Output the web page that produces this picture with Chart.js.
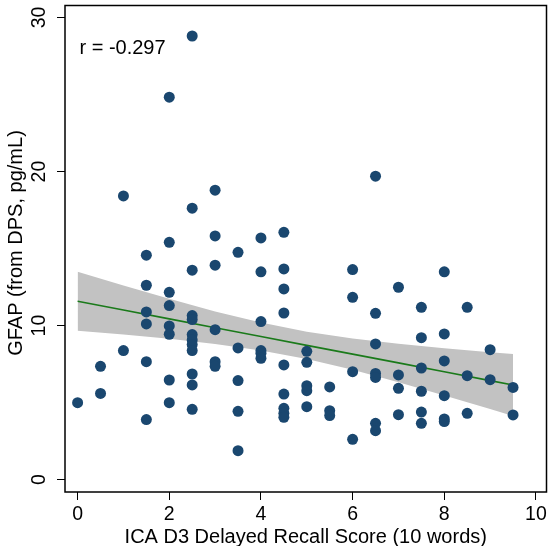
<!DOCTYPE html>
<html>
<head>
<meta charset="utf-8">
<script src="https://cdn.jsdelivr.net/npm/chart.js@4"></script>
<style>
html, body { margin: 0; padding: 0; background: #fff; }
</style>
</head>
<body>
<canvas id="chart" width="552" height="546"></canvas>
<script>
// axis ticks and labels
const xTicks = [0, 2, 4, 6, 8, 10];
const yTicks = [0, 10, 20, 30];
const xTitle = 'ICA D3 Delayed Recall Score (10 words)';
const yTitle = 'GFAP (from DPS, pg/mL)';
const rLabel = 'r = -0.297';

const recallX = [
    0,
    0.5, 0.5,
    1, 1,
    1.5, 1.5, 1.5, 1.5, 1.5, 1.5,
    2, 2, 2, 2, 2, 2, 2, 2,
    2.5, 2.5, 2.5, 2.5, 2.5, 2.5, 2.5, 2.5, 2.5, 2.5, 2.5, 2.5,
    3, 3, 3, 3, 3, 3,
    3.5, 3.5, 3.5, 3.5, 3.5,
    4, 4, 4, 4, 4, 4,
    4.5, 4.5, 4.5, 4.5, 4.5, 4.5, 4.5, 4.5, 4.5,
    5, 5, 5, 5, 5,
    5.5, 5.5, 5.5,
    6, 6, 6, 6,
    6.5, 6.5, 6.5, 6.5, 6.5, 6.5, 6.5,
    7, 7, 7, 7,
    7.5, 7.5, 7.5, 7.5, 7.5, 7.5,
    8, 8, 8, 8, 8, 8,
    8.5, 8.5, 8.5,
    9, 9,
    9.5, 9.5
];
const gfapY = [
    5.0,
    7.36, 5.6,
    18.42, 8.38,
    14.57, 12.62, 10.89, 10.11, 7.66, 3.9,
    24.83, 15.41, 12.16, 11.3, 9.98, 9.44, 6.47, 5.0,
    28.8, 17.62, 13.6, 10.65, 10.39, 9.42, 9.07, 8.77, 8.38, 6.86, 6.15, 4.57,
    18.79, 15.82, 13.92, 9.74, 7.66, 7.36,
    14.76, 8.55, 6.43, 4.44, 1.88,
    15.69, 13.49, 10.26, 8.38, 8.2, 7.88,
    16.06, 13.68, 12.38, 10.82, 7.45, 5.56, 4.63, 4.31, 4.05,
    8.33, 7.62, 6.1, 5.78, 4.74,
    6.02, 4.48, 4.16,
    13.64, 11.84, 7.01, 2.62,
    19.7, 10.8, 8.81, 6.9, 6.64, 3.66, 3.18,
    12.49, 6.8, 5.93, 4.22,
    11.19, 9.22, 7.25, 5.74, 4.39, 3.66,
    13.49, 9.46, 7.71, 5.45, 3.94, 3.77,
    11.19, 6.75, 4.31,
    8.44, 6.49,
    5.99, 4.2
];

// fitted line and its confidence band
const fitX      = [0, 1, 2, 3, 4, 5, 6, 7, 8, 9, 9.5];
const fitY      = [11.58, 11.01, 10.44, 9.86, 9.29, 8.72, 8.15, 7.58, 7.00, 6.43, 6.15];
const bandUpper = [13.49, 12.60, 11.74, 10.92, 10.20, 9.61, 9.17, 8.83, 8.53, 8.27, 8.16];
const bandLower = [9.67, 9.42, 9.14, 8.80, 8.38, 7.83, 7.13, 6.33, 5.47, 4.59, 4.14];

const pairs = (xs, ys) => xs.map((v, i) => ({ x: v, y: ys[i] }));

const FONT = '"Liberation Sans", Arial, sans-serif';

//..frame and all axis text
const frameAndText = {
    id: 'frameAndText',
    afterDraw(chart) {
        const { ctx, chartArea: a, scales: { x, y } } = chart;
        ctx.save();
        ctx.strokeStyle = '#000';
        ctx.lineWidth = 1.5;
        ctx.strokeRect(a.left, a.top, a.right - a.left, a.bottom - a.top);

        ctx.fillStyle = '#000';
        ctx.textAlign = 'center';
        ctx.textBaseline = 'alphabetic';
        ctx.font = '19.5px ' + FONT;
        xTicks.forEach(v => ctx.fillText(String(v), x.getPixelForValue(v), 519.5));
        yTicks.forEach(v => {
            ctx.save();
            ctx.translate(45, y.getPixelForValue(v));
            ctx.rotate(-Math.PI / 2);
            ctx.fillText(String(v), 0, 0);
            ctx.restore();
        });

        ctx.font = '20px ' + FONT;
        ctx.fillText(xTitle, (a.left + a.right) / 2, 543);
        ctx.save();
        ctx.translate(21.5, 243);
        ctx.rotate(-Math.PI / 2);
        ctx.fillText(yTitle, 0, 0);
        ctx.restore();

        ctx.textAlign = 'left';
        ctx.fillText(rLabel, x.getPixelForValue(0.04), y.getPixelForValue(27.63));
        ctx.restore();
    }
};

const tickGrid = {
    display: true,
    drawOnChartArea: false,
    drawTicks: true,
    tickLength: 8,
    tickColor: '#000',
    tickWidth: 1
};

new Chart(document.getElementById('chart'), {
    type: 'scatter',
    data: {
        datasets: [
            {
                data: pairs(recallX, gfapY),
                backgroundColor: '#1a476f',
                borderWidth: 0,
                pointRadius: 5.5
            },
            {
                type: 'line',
                data: pairs(fitX, fitY),
                borderColor: '#1a7a1a',
                borderWidth: 1.6,
                pointRadius: 0,
                fill: false
            },
            {
                type: 'line',
                data: pairs(fitX, bandUpper),
                borderWidth: 0,
                pointRadius: 0,
                backgroundColor: '#c2c2c2',
                fill: '+1'
            },
            {
                type: 'line',
                data: pairs(fitX, bandLower),
                borderWidth: 0,
                pointRadius: 0,
                fill: false
            }
        ]
    },
    options: {
        responsive: false,
        animation: false,
        layout: { padding: { top: 5, right: 2, left: 0, bottom: 0 } },
        plugins: {
            legend: { display: false },
            tooltip: { enabled: false }
        },
        scales: {
            x: {
                type: 'linear',
                min: -0.275,
                max: 10.23,
                afterBuildTicks: s => { s.ticks = xTicks.map(v => ({ value: v })); },
                afterFit: s => { s.height = 54; },
                ticks: { display: false },
                grid: tickGrid,
                border: { display: false }
            },
            y: {
                type: 'linear',
                min: -0.8,
                max: 30.78,
                afterBuildTicks: s => { s.ticks = yTicks.map(v => ({ value: v })); },
                afterFit: s => { s.width = 65; },
                ticks: { display: false },
                grid: tickGrid,
                border: { display: false }
            }
        }
    },
    plugins: [frameAndText]
});
</script>
</body>
</html>
